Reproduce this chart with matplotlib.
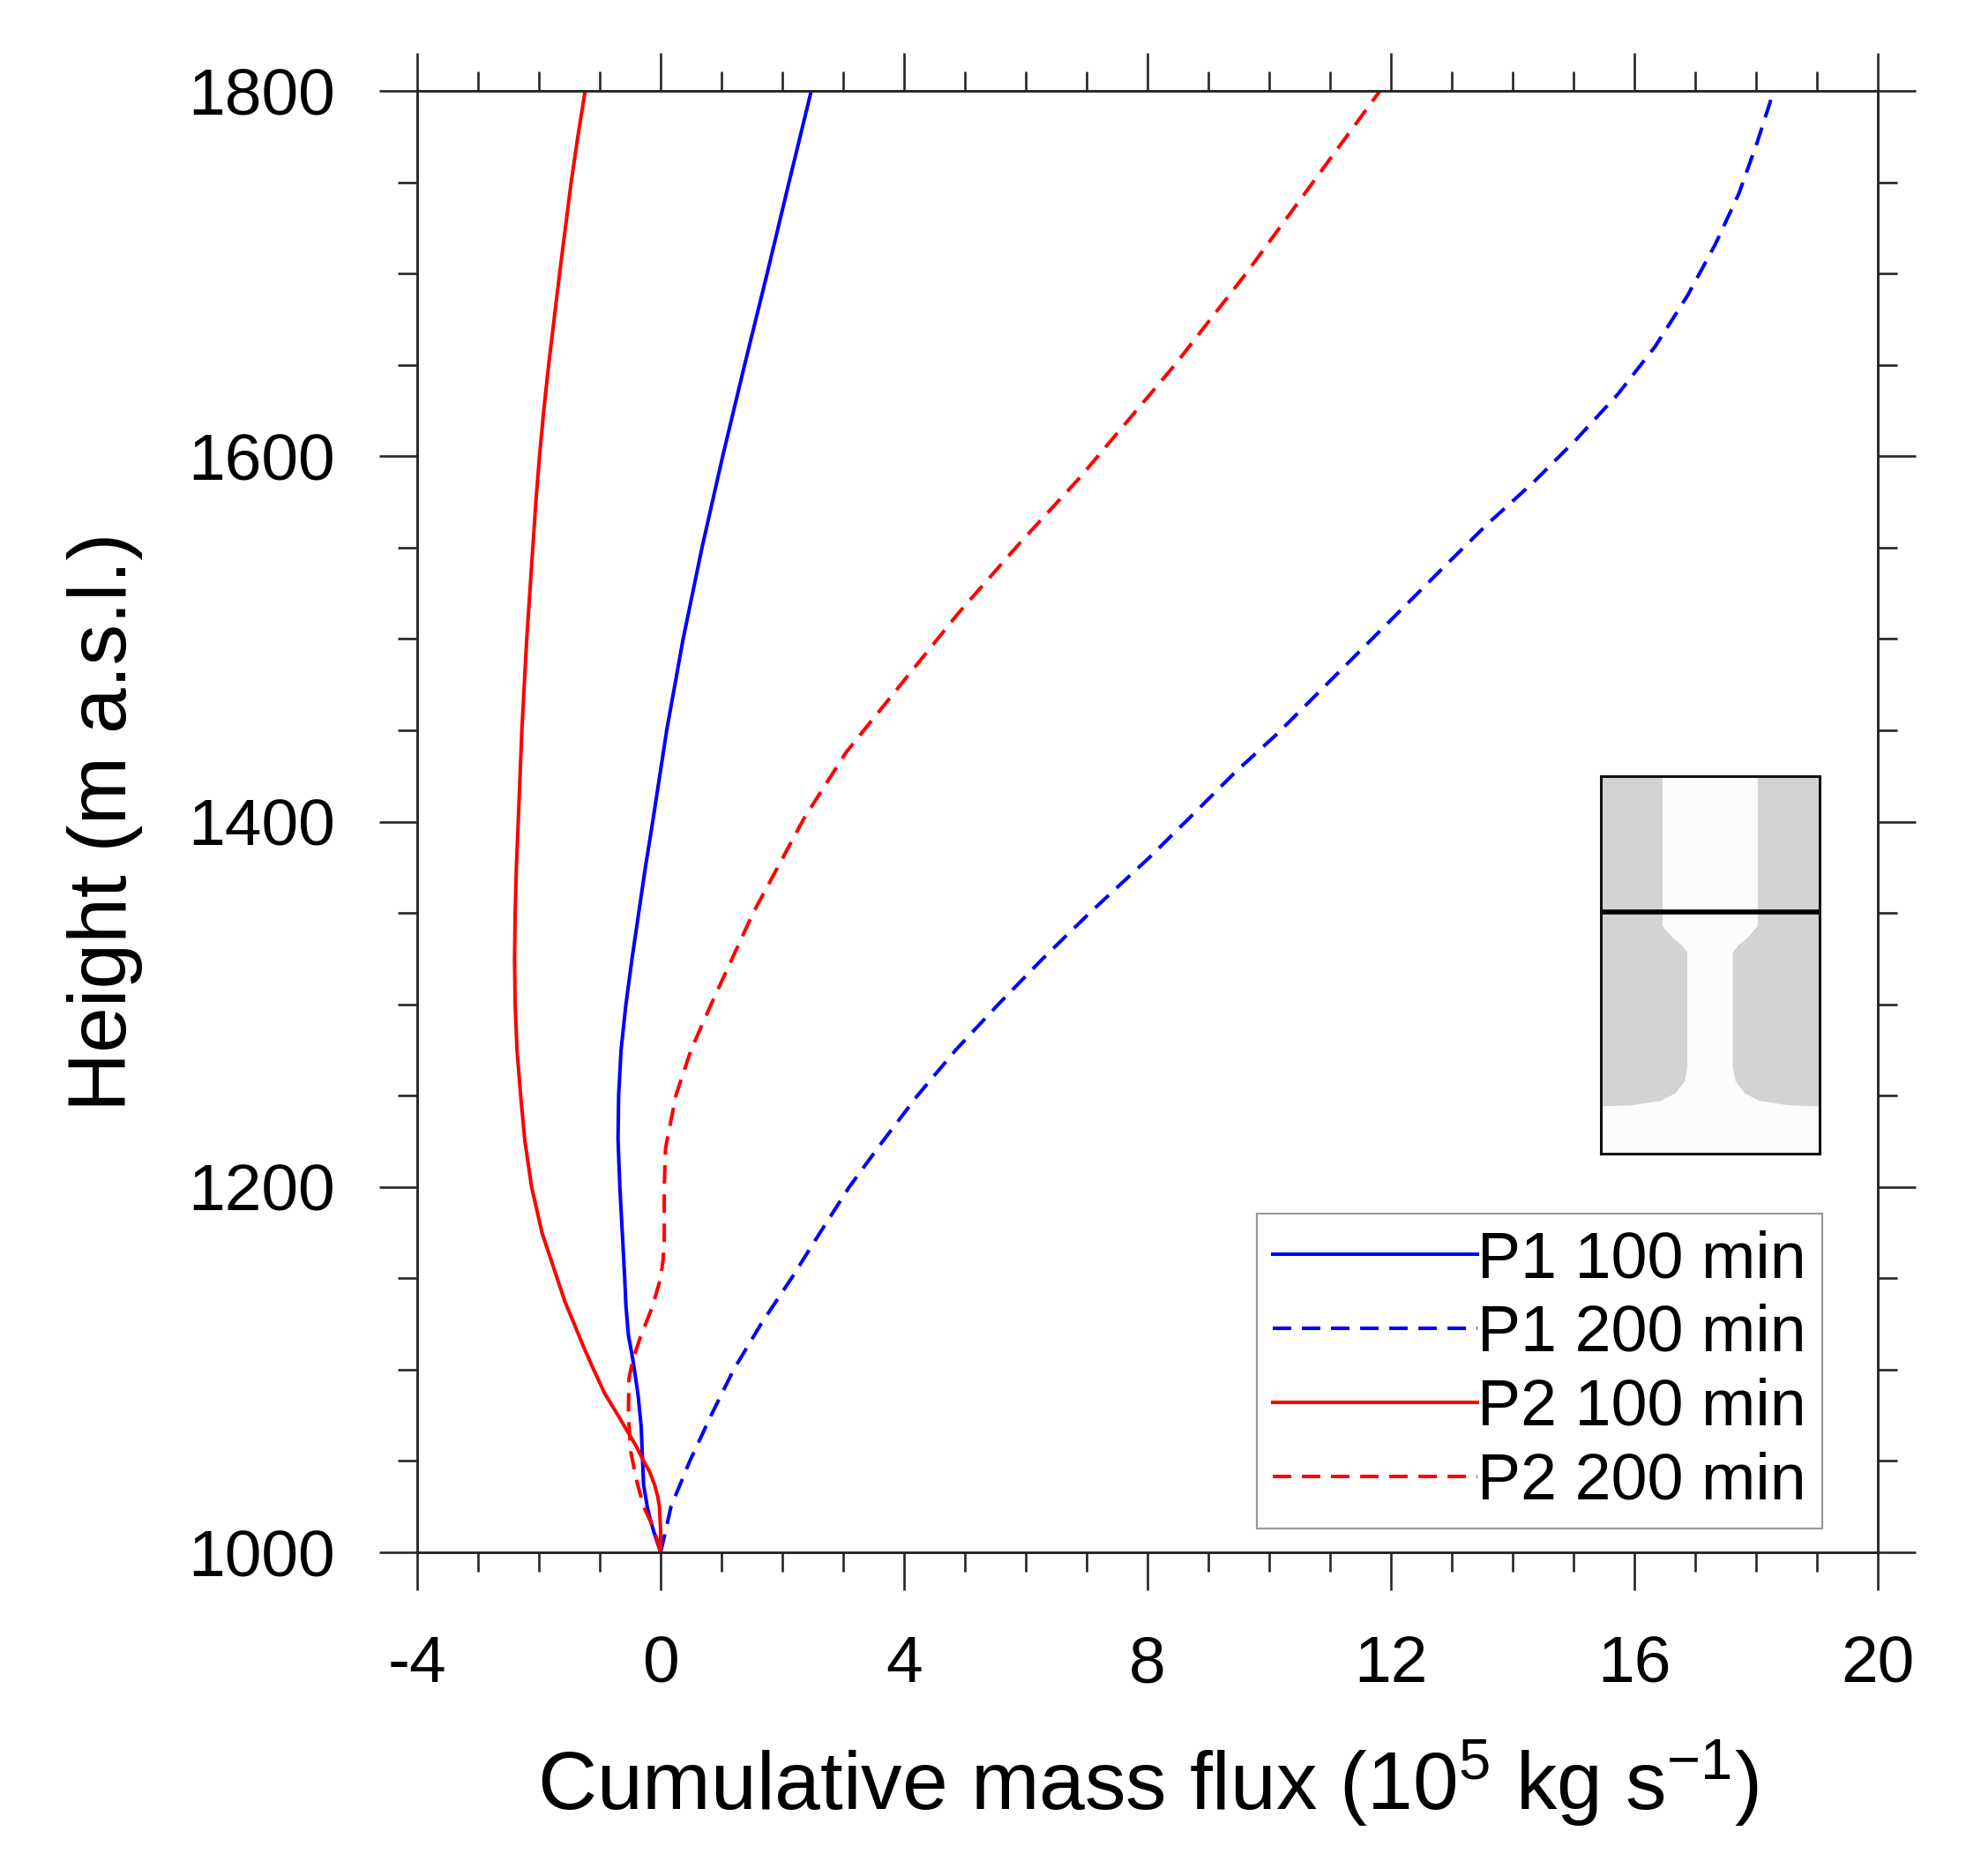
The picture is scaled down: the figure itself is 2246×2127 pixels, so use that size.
import numpy as np
import matplotlib
matplotlib.use('Agg')
import matplotlib.pyplot as plt
from matplotlib.ticker import MultipleLocator

plt.rcParams['font.family'] = ['Liberation Sans', 'DejaVu Sans']
plt.rcParams['mathtext.fontset'] = 'custom'
plt.rcParams['mathtext.rm'] = 'Liberation Sans'
plt.rcParams['mathtext.default'] = 'regular'
plt.rcParams['axes.unicode_minus'] = False

# P1 100 min (blue solid)
p1_100_h = [1000, 1005, 1011, 1018, 1025, 1037, 1053, 1069, 1086, 1102, 1110, 1119, 1135,
            1150, 1175, 1200, 1226, 1250, 1275, 1300, 1325, 1350, 1375, 1400, 1450, 1500,
            1550, 1600, 1650, 1700, 1750, 1800]
p1_100_x = [0.0, -0.05, -0.11, -0.17, -0.22, -0.28, -0.30, -0.32, -0.37, -0.44, -0.48, -0.53, -0.57,
            -0.59, -0.63, -0.67, -0.70, -0.69, -0.65, -0.57, -0.47, -0.36, -0.25, -0.13, 0.10, 0.37,
            0.68, 1.02, 1.38, 1.75, 2.11, 2.475]

# P1 200 min (blue dashed)
p1_200_h = [1000, 1010, 1025, 1050, 1075, 1100, 1125, 1150, 1175, 1200, 1225, 1250, 1275,
            1300, 1325, 1350, 1380, 1404, 1427, 1448, 1471, 1494, 1517, 1540, 1563, 1586,
            1609, 1634, 1660, 1688, 1716, 1744, 1772, 1800]
p1_200_x = [0.0, 0.07, 0.17, 0.48, 0.83, 1.20, 1.65, 2.15, 2.62, 3.10, 3.65, 4.22, 4.85,
            5.55, 6.28, 7.05, 8.02, 8.75, 9.44, 10.13, 10.82, 11.51, 12.20, 12.89, 13.59, 14.35,
            15.04, 15.73, 16.34, 16.875, 17.33, 17.72, 18.02, 18.29]

# P2 100 min (red solid)
p2_100_h = [1000, 1012, 1025, 1031, 1037, 1044, 1050, 1058, 1075, 1087, 1100, 1112, 1125,
            1137, 1150, 1175, 1200, 1225, 1250, 1275, 1300, 1325, 1350, 1375, 1400, 1450,
            1500, 1550, 1575, 1600, 1625, 1650, 1675, 1700, 1725, 1750, 1775, 1800]
p2_100_x = [0.0, 0.0, -0.02, -0.05, -0.10, -0.18, -0.28, -0.40, -0.70, -0.92, -1.10, -1.26, -1.42,
            -1.57, -1.70, -1.95, -2.12, -2.23, -2.30, -2.36, -2.39, -2.40, -2.39, -2.37, -2.34, -2.28,
            -2.20, -2.10, -2.05, -1.99, -1.92, -1.84, -1.75, -1.66, -1.565, -1.47, -1.36, -1.24]

# P2 200 min (red dashed)
p2_200_h = [1000, 1013, 1025, 1040, 1055, 1075, 1095, 1105, 1118, 1134, 1150, 1160, 1170,
            1200, 1221, 1250, 1275, 1300, 1350, 1402, 1438, 1476, 1514, 1552, 1588, 1633,
            1650, 1700, 1750, 1800]
p2_200_x = [0.0, -0.11, -0.28, -0.40, -0.49, -0.53, -0.52, -0.46, -0.33, -0.14, 0.0, 0.04, 0.06,
            0.06, 0.08, 0.25, 0.50, 0.83, 1.52, 2.36, 3.05, 3.97, 4.89, 5.89, 6.88, 8.02,
            8.45, 9.62, 10.72, 11.82]

labels = ['P1 100 min', 'P1 200 min', 'P2 100 min', 'P2 200 min']

xticks = [-4, 0, 4, 8, 12, 16, 20]
yticks = [1000, 1200, 1400, 1600, 1800]

# valley sketch for the inset (left inner edge, mirrored for the right side)
valley_x = [0.282, 0.282, 0.329, 0.369, 0.396, 0.396, 0.383, 0.342, 0.275, 0.141, 0.0]
valley_y = [1.0, 0.603, 0.572, 0.553, 0.533, 0.230, 0.191, 0.160, 0.140, 0.128, 0.125]
section_y = 0.640

W, H = 2246, 2127
fig = plt.figure(figsize=(W / 100, H / 100), dpi=100)
ax = fig.add_axes([473 / W, 1 - 1760 / H, 1656 / W, 1657 / H])

lw = 2.9
dash = (0, (5.2, 3.0))
ax.plot(p1_100_x, p1_100_h, color='#0000ff', lw=lw, ls='-', label=labels[0])
ax.plot(p1_200_x, p1_200_h, color='#0000ff', lw=lw, ls=dash, label=labels[1])
ax.plot(p2_100_x, p2_100_h, color='#ff0000', lw=lw, ls='-', label=labels[2])
ax.plot(p2_200_x, p2_200_h, color='#ff0000', lw=lw, ls=dash, label=labels[3])

ax.set_xlim(-4, 20)
ax.set_ylim(1000, 1800)
ax.set_xticks(xticks)
ax.set_yticks(yticks)
ax.xaxis.set_minor_locator(MultipleLocator(1))
ax.yaxis.set_minor_locator(MultipleLocator(50))

axis_col = '#262626'
for sp in ax.spines.values():
    sp.set_linewidth(2.1)
    sp.set_color(axis_col)
ax.tick_params(which='both', direction='out', top=True, right=True,
               labeltop=False, labelright=False, width=1.9, color=axis_col)
ax.tick_params(which='major', length=31, labelsize=54)
ax.tick_params(which='minor', length=16)
ax.tick_params(axis='x', which='major', pad=36)
ax.tick_params(axis='y', which='major', pad=36)

ax.set_xlabel('Cumulative mass flux (10$^5$ kg s$^{-1}$)', fontsize=67)
ax.xaxis.set_label_coords(0.5, -0.176)
ax.xaxis.label.set_va('baseline')
fig.text(143 / W, 1 - 931.5 / H, 'Height (m a.s.l.)', fontsize=67, rotation=90,
         rotation_mode='anchor', ha='center', va='baseline')

leg = ax.legend(loc='lower right', bbox_to_anchor=(0.9619, 0.0164), borderaxespad=0,
                fontsize=53, handlelength=3.15, handletextpad=0.0, labelspacing=0.2,
                borderpad=0.25, fancybox=False, framealpha=1)
leg.get_frame().set_edgecolor('#9a9a9a')
leg.get_frame().set_linewidth(1.6)

# inset sketch of the valley cross-section
ins = ax.inset_axes([0.8104, 0.2728, 0.1496, 0.2582])
ins.set_xlim(0, 1)
ins.set_ylim(0, 1)
ins.set_xticks([])
ins.set_yticks([])
ins.set_facecolor('#fcfcfc')
lx = [0.0] + valley_x
ly = [1.0] + valley_y
ins.fill(lx, ly, color='#d3d3d3', lw=0)
ins.fill([1 - v for v in lx], ly, color='#d3d3d3', lw=0)
ins.axhline(section_y, color='black', lw=4)
for sp in ins.spines.values():
    sp.set_linewidth(2.2)
    sp.set_color('#111111')

fig.savefig('out.png', dpi=100, facecolor='white')
